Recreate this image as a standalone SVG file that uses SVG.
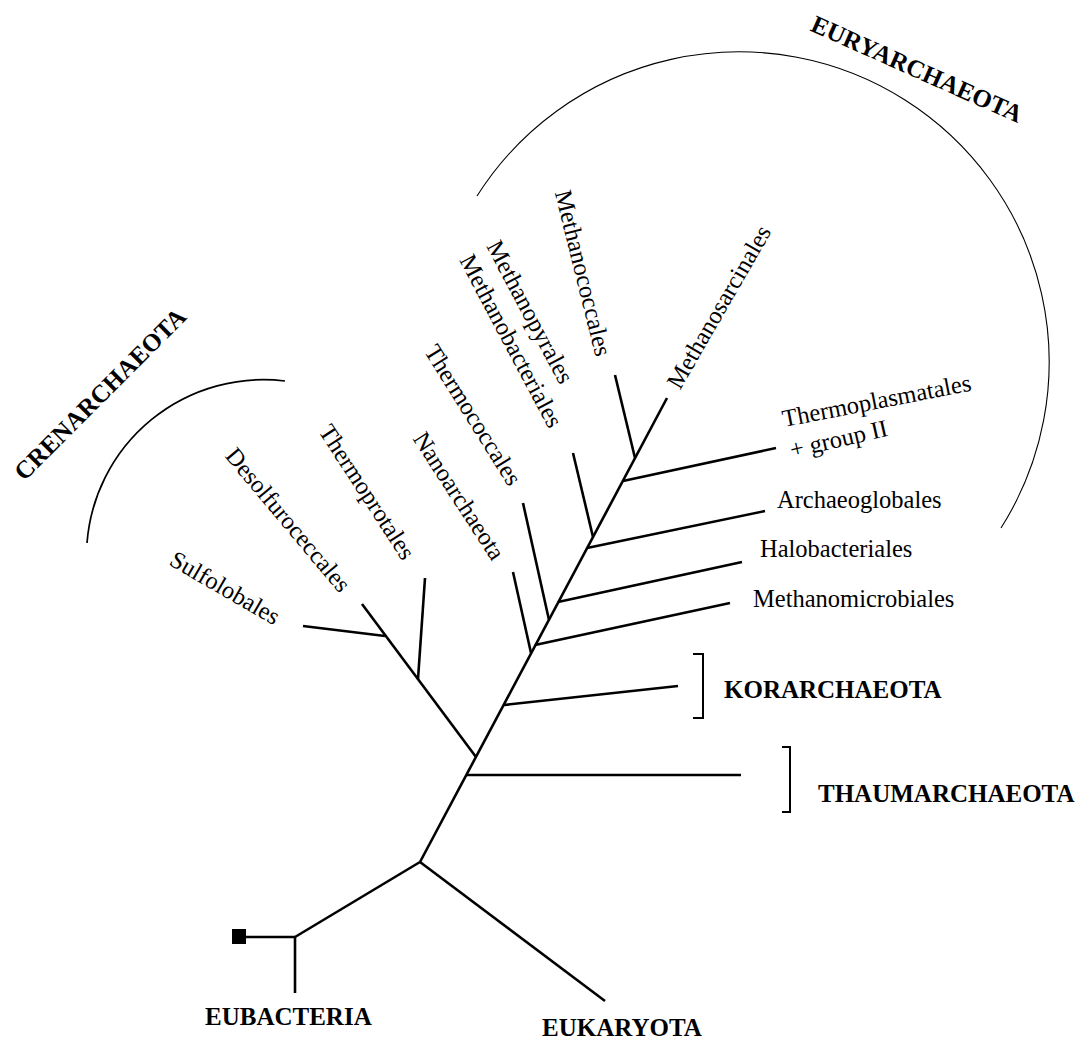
<svg xmlns="http://www.w3.org/2000/svg" width="1088" height="1041" viewBox="0 0 1088 1041">
<style>
  .br { stroke:#000; stroke-width:2.6; fill:none; stroke-linecap:butt; }
  .bk { stroke:#000; stroke-width:2; fill:none; }
  .arc { stroke:#000; fill:none; }
  .lbl { font-family:"Liberation Serif","Times New Roman",serif; font-size:24.5px; fill:#000; }
  .grp { font-family:"Liberation Serif","Times New Roman",serif; font-size:25px; font-weight:bold; fill:#000; }
  .c { text-anchor:middle; }
</style>
<rect width="1088" height="1041" fill="#fff"/>

<g id="connectors">
  <!-- root / outgroups -->
  <line class="br" x1="246" y1="937" x2="295" y2="937"/>
  <line class="br" x1="295" y1="937" x2="295" y2="993"/>
  <line class="br" x1="295" y1="937" x2="420" y2="862"/>
  <line class="br" x1="420" y1="862" x2="605" y2="1001"/>
  <!-- archaeal trunk -->
  <line class="br" x1="420" y1="862" x2="667" y2="398"/>
  <!-- thaumarchaeota -->
  <line class="br" x1="466" y1="775" x2="741" y2="775"/>
  <!-- crenarchaeota -->
  <line class="br" x1="476" y1="757" x2="362" y2="604"/>
  <line class="br" x1="418" y1="679" x2="425" y2="578"/>
  <line class="br" x1="385" y1="636" x2="303" y2="626"/>
  <!-- korarchaeota -->
  <line class="br" x1="504" y1="705" x2="678" y2="686"/>
  <!-- euryarchaeota & nanoarchaeota -->
  <line class="br" x1="531" y1="653" x2="513" y2="572"/>
  <line class="br" x1="535" y1="645" x2="730" y2="603"/>
  <line class="br" x1="549" y1="620" x2="523" y2="503"/>
  <line class="br" x1="558" y1="602" x2="742" y2="562"/>
  <line class="br" x1="587" y1="548" x2="765" y2="511"/>
  <line class="br" x1="593" y1="537" x2="573" y2="453"/>
  <line class="br" x1="623" y1="481" x2="776" y2="448"/>
  <line class="br" x1="635" y1="458" x2="615" y2="375"/>
</g>

<g id="eubacteria">
  <rect x="232" y="929" width="14" height="15" fill="#000"/>
  <text class="grp" x="205" y="1025">EUBACTERIA</text>
</g>
<g id="eukaryota">
  <text class="grp" x="542" y="1036">EUKARYOTA</text>
</g>

<g id="thaumarchaeota">
  <path class="bk" d="M782,747 H790 V812 H782"/>
  <text class="grp" x="818" y="802">THAUMARCHAEOTA</text>
</g>
<g id="korarchaeota">
  <path class="bk" d="M693,654 H703 V718 H693"/>
  <text class="grp" x="724" y="698">KORARCHAEOTA</text>
</g>

<g id="crenarchaeota">
  <path class="arc" stroke-width="1.7" d="M87,543 A177,177 0 0 1 285,381"/>
  <text class="grp c" transform="translate(100,394) rotate(-45)" y="8.5">CRENARCHAEOTA</text>
</g>
<g id="euryarchaeota">
  <path class="arc" stroke-width="1.1" d="M477,196 A310,310 0 0 1 1001,528"/>
  <text class="grp c" transform="translate(917,69) rotate(24)" y="8.5">EURYARCHAEOTA</text>
</g>

<g id="sulfolobales"><text class="lbl c" transform="translate(225,588) rotate(30)" y="8">Sulfolobales</text></g>
<g id="desolfuroceccales"><text class="lbl c" transform="translate(288,520) rotate(50)" y="8">Desolfuroceccales</text></g>
<g id="thermoprotales"><text class="lbl c" transform="translate(367,492) rotate(57)" y="8">Thermoprotales</text></g>
<g id="nanoarchaeota"><text class="lbl c" transform="translate(459,496) rotate(57)" y="8">Nanoarchaeota</text></g>
<g id="thermococcales"><text class="lbl c" transform="translate(473,415) rotate(58)" y="8">Thermococcales</text></g>
<g id="methanobacteriales"><text class="lbl c" transform="translate(511,341) rotate(62)" y="8">Methanobacteriales</text></g>
<g id="methanopyrales"><text class="lbl c" transform="translate(530,312) rotate(62)" y="8">Methanopyrales</text></g>
<g id="methanococcales"><text class="lbl c" transform="translate(583,273) rotate(76)" y="8">Methanococcales</text></g>
<g id="methanosarcinales"><text class="lbl c" transform="translate(719,307) rotate(-60)" y="8">Methanosarcinales</text></g>
<g id="thermoplasmatales">
  <text class="lbl" transform="translate(784,427) rotate(-11)">Thermoplasmatales</text>
  <text class="lbl" transform="translate(792,458) rotate(-13)">+ group II</text>
</g>
<g id="archaeoglobales"><text class="lbl" x="777" y="508">Archaeoglobales</text></g>
<g id="halobacteriales"><text class="lbl" x="760" y="557">Halobacteriales</text></g>
<g id="methanomicrobiales"><text class="lbl" x="753" y="607">Methanomicrobiales</text></g>
</svg>
